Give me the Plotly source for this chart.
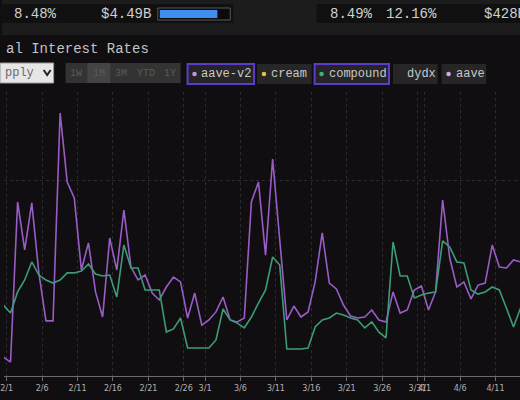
import plotly.graph_objects as go
import pandas as pd

# ---------------- data ----------------
dates = pd.date_range("2021-01-31 13:00", periods=74, freq="D")

aave_v2 = [0.97, 0.71, 8.88, 6.43, 8.83, 5.26, 2.81, 2.81, 13.42, 9.90,
           9.08, 5.41, 6.79, 4.29, 3.01, 7.04, 5.41, 8.47, 5.56, 4.90,
           5.15, 4.23, 3.88, 4.54, 5.05, 4.80, 2.96, 4.23, 2.60, 2.86,
           3.27, 4.03, 2.86, 2.76, 2.96, 8.88, 9.90, 6.17, 11.07, 6.94,
           2.86, 3.57, 3.01, 3.27, 4.80, 7.30, 4.74, 4.44, 3.62, 3.06,
           2.96, 3.01, 3.37, 2.86, 2.76, 4.29, 3.21, 3.37, 4.39, 4.59,
           3.37, 4.29, 8.98, 6.02, 4.54, 4.80, 3.93, 4.64, 4.74, 6.68,
           5.56, 5.51, 5.92, 5.82]

compound = [3.62, 3.21, 4.29, 4.90, 5.82, 5.15, 4.90, 4.74, 4.90, 5.26,
            5.26, 5.36, 5.71, 5.20, 5.10, 5.15, 4.03, 6.68, 5.51, 5.51,
            4.39, 4.39, 4.39, 2.24, 2.40, 2.96, 1.43, 1.43, 1.43, 1.43,
            1.84, 3.42, 2.86, 2.70, 2.45, 3.01, 3.72, 4.39, 6.07, 5.66,
            1.38, 1.38, 1.38, 1.43, 2.50, 2.86, 2.96, 3.21, 3.11, 2.96,
            2.86, 2.45, 2.76, 2.24, 1.94, 6.84, 5.10, 5.10, 3.98, 4.13,
            4.23, 4.29, 6.89, 6.58, 5.82, 5.77, 4.39, 4.18, 4.29, 4.54,
            4.39, 3.47, 2.50, 3.47]

tick_dates = ["2021-02-01", "2021-02-06", "2021-02-11", "2021-02-16", "2021-02-21",
              "2021-02-26", "2021-03-01", "2021-03-06", "2021-03-11", "2021-03-16",
              "2021-03-21", "2021-03-26", "2021-03-31", "2021-04-01", "2021-04-06",
              "2021-04-11"]
tick_labels = ["2/1", "2/6", "2/11", "2/16", "2/21", "2/26", "3/1", "3/6", "3/11",
               "3/16", "3/21", "3/26", "3/31", "4/1", "4/6", "4/11"]

header_left = ["8.48%", "$4.49B"]
header_right = ["8.49%", "12.16%", "$428B"]
title_text = "al Interest Rates"
range_buttons = ["1W", "1M", "3M", "YTD", "1Y"]
toggles = ["aave-v2", "cream", "compound", "dydx", "aave"]

# ---------------- layout helpers ----------------
W, H = 520, 400
TOP, BOT = 92, 376


def px(x):
    return x / W


def py(y):
    return (BOT - y) / (BOT - TOP)


BG = "#100e10"
MONO = "Liberation Mono, DejaVu Sans Mono, monospace"

fig = go.Figure()
fig.add_trace(go.Scatter(x=dates, y=aave_v2, mode="lines", name="aave-v2",
                         line=dict(color="#9a5cc6", width=1.6), showlegend=False))
fig.add_trace(go.Scatter(x=dates, y=compound, mode="lines", name="compound",
                         line=dict(color="#3c9c76", width=1.6), showlegend=False))

shapes = []
annotations = []


def rect(x0, y0, x1, y1, fill, line=None, lw=0):
    shapes.append(dict(type="rect", xref="paper", yref="paper",
                       x0=px(x0), x1=px(x1), y0=py(y1), y1=py(y0),
                       fillcolor=fill, line=dict(color=line or fill, width=lw)))


def text(x, y, s, size=12, color="#cccccc", anchor="left", family=MONO):
    annotations.append(dict(xref="paper", yref="paper", x=px(x), y=py(y), text=s,
                            showarrow=False, xanchor=anchor, yanchor="middle",
                            font=dict(family=family, size=size, color=color)))


def dot(x, y, r, color):
    shapes.append(dict(type="circle", xref="paper", yref="paper",
                       x0=px(x - r), x1=px(x + r), y0=py(y + r), y1=py(y - r),
                       fillcolor=color, line=dict(width=0)))


# header band
rect(-2, -2, 522, 35, "#1c1c1c")
rect(-4, 4, 231, 23, "#101010")
rect(315, 4, 526, 23, "#101010")
text(8, 14, header_left[0], size=14, color="#d0d0d0")
text(96, 14, header_left[1], size=14, color="#d0d0d0")
rect(155, 8, 228, 20, "#0a0a0a", "#5a5a5a", 1)
rect(157, 10, 215, 18, "#3f8ff0")
text(327, 14, header_right[0], size=14, color="#d0d0d0")
text(383, 14, header_right[1], size=14, color="#d0d0d0")
text(482, 14, header_right[2], size=14, color="#d0d0d0")

# title
text(0, 49, title_text, size=14, color="#c4c4c4")

# dropdown
rect(-4, 63, 50, 83, "#e6e6e6", "#9a9a9a", 1)
text(-1, 73, "pply", size=12, color="#6a6a6a")
shapes.append(dict(type="path", xref="paper", yref="paper",
                   path=f"M {px(40)},{py(70)} L {px(43.5)},{py(75)} L {px(47)},{py(70)}",
                   line=dict(color="#222222", width=2)))

# range buttons
seg = [62, 84, 107, 129, 157, 178]
rect(62, 63, 178, 83, "#333333")
rect(84, 63, 107, 83, "#444444")
for i, lab in enumerate(range_buttons):
    text((seg[i] + seg[i + 1]) / 2, 73, lab, size=10, color="#5a5a5a", anchor="center")

# series toggles
toggle_geo = [(185, 252, "#c98ee6", True), (255, 310, "#e2c04a", False),
              (313, 388, "#3fb07f", True), (392, 437, None, False),
              (441, 486, "#d6a6e6", False)]
for lab, (x0, x1, c, sel) in zip(toggles, toggle_geo):
    if sel:
        rect(x0, 64, x1, 84, "#252525", "#5b3ccc", 2)
    else:
        rect(x0, 64, x1, 84, "#262626")
    if c:
        dot(x0 + 7, 74, 2.3, c)
    text(x0 + 12, 74, lab, size=12, color="#c8c8c8")

fig.update_layout(
    width=W, height=H,
    margin=dict(l=0, r=0, t=TOP, b=H - BOT),
    paper_bgcolor=BG, plot_bgcolor=BG,
    shapes=shapes, annotations=annotations,
    xaxis=dict(type="date", range=["2021-01-31 14:53", "2021-04-14 11:03"],
               tickvals=tick_dates, ticktext=tick_labels, tickangle=0,
               ticklabeloverflow="allow",
               tickfont=dict(family="DejaVu Sans", size=8, color="#b0b0b0"),
               showline=True, linecolor="#6a6a6a", linewidth=1,
               ticks="outside", ticklen=4, tickcolor="#6a6a6a",
               showgrid=True, gridcolor="#2c2c2c", griddash="dot", gridwidth=1,
               zeroline=False, fixedrange=True),
    yaxis=dict(range=[0, 14.49], tickvals=[10], showticklabels=False,
               showgrid=True, gridcolor="#2c2c2c", griddash="dot",
               zeroline=False, showline=False, fixedrange=True),
)

fig.write_html(
    "out.html",
    config={"displayModeBar": False},
    post_script="document.body.style.margin='0';document.body.style.overflow='hidden';"
                "document.body.style.background='#100e10';",
)
